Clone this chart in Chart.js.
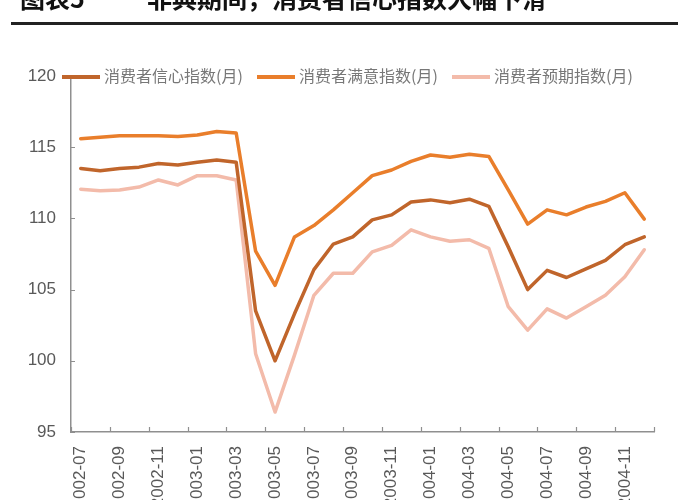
<!DOCTYPE html>
<html><head><meta charset="utf-8">
<script src="https://cdn.jsdelivr.net/npm/chart.js@4.4.0/dist/chart.umd.min.js"></script>
<style>
html,body{margin:0;padding:0;background:#fff;overflow:hidden;width:700px;height:500px}
#wrap{position:relative;width:700px;height:500px;overflow:hidden;background:#fff}
#title{position:absolute;left:0;top:-15px;width:700px;height:30px;font:bold 25px/25px 'Noto Sans CJK SC',sans-serif;color:#111;white-space:nowrap}
#title span{position:absolute;top:0}
#rule{position:absolute;left:11px;width:667px;top:22px;height:3px;background:#222}
#legend{position:absolute;top:64px;left:0;width:700px;height:22px;font:16px/22px 'Noto Sans CJK SC',sans-serif;color:#777}
.item{position:absolute;top:0;white-space:nowrap}
.swatch{display:inline-block;width:38px;height:4px;vertical-align:middle;margin-right:4px;position:relative;top:-1px}
canvas{position:absolute;left:0;top:0}
</style></head>
<body>
<div id="wrap">
  <canvas id="c" width="700" height="500"></canvas>
  <div id="title"><span style="left:20px">图表5</span><span style="left:147px">非典期间，消费者信心指数大幅下滑</span></div>
  <div id="rule"></div>
  <div id="legend"></div>
</div>
<script>
const months = ["2002-07","2002-08","2002-09","2002-10","2002-11","2002-12",
  "2003-01","2003-02","2003-03","2003-04","2003-05","2003-06","2003-07","2003-08","2003-09","2003-10","2003-11","2003-12",
  "2004-01","2004-02","2004-03","2004-04","2004-05","2004-06","2004-07","2004-08","2004-09","2004-10","2004-11","2004-12"];
const seriesNames = ["消费者信心指数(月)","消费者满意指数(月)","消费者预期指数(月)"];
const confidence = [113.5,113.35,113.5,113.6,113.85,113.75,113.95,114.1,113.95,103.5,100.0,103.3,106.4,108.2,108.7,109.9,110.25,111.15,111.3,111.1,111.35,110.85,108.0,105.0,106.35,105.85,106.45,107.05,108.15,108.7];
const satisfaction = [115.6,115.7,115.8,115.8,115.8,115.75,115.85,116.1,116.0,107.7,105.3,108.7,109.5,110.6,111.8,113.0,113.4,114.0,114.45,114.3,114.5,114.35,112.0,109.6,110.6,110.25,110.8,111.2,111.8,109.95];
const expectation = [112.05,111.95,112.0,112.2,112.7,112.35,113.0,113.0,112.7,100.5,96.4,100.4,104.6,106.15,106.15,107.65,108.1,109.2,108.7,108.4,108.5,107.9,103.8,102.15,103.65,103.0,103.8,104.6,105.9,107.8];
const yTicks = [95,100,105,110,115,120];
const colors = ["#C0652B","#E97E2B","#F3BBAA"];

const innerTicks = {
  id:'innerTicks',
  afterDraw(chart){
    const ctx = chart.ctx, x = chart.scales.x, y = chart.scales.y, ca = chart.chartArea;
    ctx.save();
    ctx.strokeStyle = '#8f8f8f'; ctx.lineWidth = 1.2;
    ctx.beginPath();
    yTicks.forEach(v => { const py = Math.round(y.getPixelForValue(v))+0.5; ctx.moveTo(ca.left, py); ctx.lineTo(ca.left+4, py); });
    for (let i = 0; i <= months.length; i += 2) {
      const px = Math.round(x.getPixelForValue(i-0.5))+0.5;
      ctx.moveTo(px, ca.bottom); ctx.lineTo(px, ca.bottom-5);
    }
    ctx.stroke();
    ctx.restore();
  }
};

const chart = new Chart(document.getElementById('c'), {
  type:'line',
  data:{
    labels: months,
    datasets:[
      {label:seriesNames[0], data:confidence, borderColor:colors[0], backgroundColor:colors[0]},
      {label:seriesNames[1], data:satisfaction, borderColor:colors[1], backgroundColor:colors[1]},
      {label:seriesNames[2], data:expectation, borderColor:colors[2], backgroundColor:colors[2]}
    ]
  },
  options:{
    responsive:false, animation:false, devicePixelRatio:1,
    layout:{padding:{top:76,right:46,left:0,bottom:0}},
    elements:{line:{borderWidth:3.5,tension:0,borderJoinStyle:'round',borderCapStyle:'round'},point:{radius:0}},
    plugins:{legend:{display:false},title:{display:false},tooltip:{enabled:false}},
    scales:{
      x:{
        offset:true,
        grid:{display:true,drawOnChartArea:false,drawTicks:false,color:'rgba(0,0,0,0)'},
        border:{display:true,color:'#8f8f8f',width:1.5},
        ticks:{autoSkip:false,maxRotation:90,minRotation:90,padding:14,color:'#595959',
          font:{family:"'Liberation Sans', sans-serif",size:17},
          callback:function(v,i){ return i%2===0 ? months[i] : ''; }},
        afterFit:function(s){ s.height = 68; }
      },
      y:{
        min:95,max:120,
        grid:{display:true,drawOnChartArea:false,drawTicks:false,color:'rgba(0,0,0,0)'},
        border:{display:true,color:'#8f8f8f',width:1.5},
        ticks:{stepSize:5,padding:15,color:'#595959',
          font:{family:"'Liberation Sans Narrow','Liberation Sans', sans-serif",size:17}},
        afterFit:function(s){ s.width = 71; }
      }
    }
  },
  plugins:[innerTicks]
});

const lg = document.getElementById('legend');
const lefts = [62,257,452];
chart.data.datasets.forEach((ds,i)=>{
  const it = document.createElement('div');
  it.className='item'; it.style.left = lefts[i]+'px';
  const sw = document.createElement('span'); sw.className='swatch'; sw.style.background = ds.borderColor;
  it.appendChild(sw); it.appendChild(document.createTextNode(ds.label));
  lg.appendChild(it);
});
</script>
</body></html>
